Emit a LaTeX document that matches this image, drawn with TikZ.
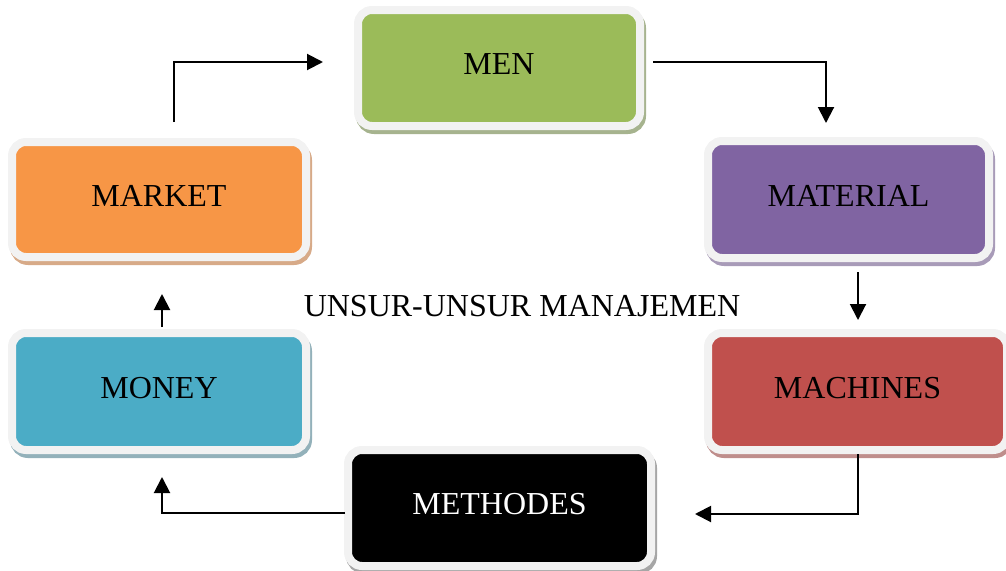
\documentclass[tikz,border=0pt]{standalone}
\usepackage{fontspec}
\setmainfont{Liberation Serif}
\usetikzlibrary{arrows.meta,shadows}
\definecolor{boxborder}{HTML}{F2F2F2}
\definecolor{cgreen}{HTML}{9BBB59}
\definecolor{cpurple}{HTML}{8064A2}
\definecolor{cred}{HTML}{C0504D}
\definecolor{cblue}{HTML}{4BACC6}
\definecolor{corange}{HTML}{F79646}
\definecolor{sgreen}{HTML}{A6B38E}
\definecolor{spurple}{HTML}{A89BB8}
\definecolor{sred}{HTML}{BF8E8C}
\definecolor{sblue}{HTML}{93B1BA}
\definecolor{sorange}{HTML}{D7AA88}
\definecolor{sblack}{HTML}{A6A6A6}
\begin{document}
\begin{tikzpicture}[x=1pt,y=-1pt,
  box/.style={rounded corners=14pt, draw=boxborder, line width=8pt, inner sep=0pt,
    text depth=8pt, font=\fontsize{32}{37}\selectfont,
    drop shadow={shadow xshift=2pt, shadow yshift=-4pt, opacity=1, fill=#1, draw=#1, line width=8pt}},
  arr/.style={line width=2pt, -{Triangle[length=16pt,width=16pt]}},
  title/.style={font=\fontsize{32}{37}\selectfont, inner sep=0pt}]
\useasboundingbox (0,0) rectangle (1006,570);
\node[box=sgreen, fill=cgreen, minimum width=282pt, minimum height=116pt] (men) at (499,68) {MEN};
\node[box=sorange, fill=corange, minimum width=294pt, minimum height=115pt] (market) at (159,199.5) {MARKET};
\node[box=spurple, fill=cpurple, minimum width=281pt, minimum height=117pt] (material) at (848.5,199.5) {MATERIAL};
\node[box=sred, fill=cred, minimum width=299pt, minimum height=117pt] (machines) at (857.5,391.5) {MACHINES};
\node[box=sblue, fill=cblue, minimum width=294pt, minimum height=117pt] (money) at (159,391.5) {MONEY};
\node[box=sblack, fill=black, text=white, minimum width=303pt, minimum height=116pt] (methodes) at (499.5,508) {METHODES};
\node[title] (ttl) at (522,306) {UNSUR-UNSUR MANAJEMEN};
\draw[arr] ([shift={(15,-16)}]market.north) |- ([shift={(-31,-6)}]men.west);
\draw[arr] ([shift={(9,-6)}]men.east) -| ([shift={(-22.5,-14)}]material.north);
\draw[arr] ([shift={(9.5,10)}]material.south) -- ([shift={(0.5,-9)}]machines.north);
\draw[arr] ([shift={(0.5,0)}]machines.south) |- ([shift={(40,6)}]methodes.east);
\draw[arr] ([shift={(1,5)}]methodes.west) -| ([shift={(3,23)}]money.south);
\draw[arr] ([shift={(3,-2)}]money.north) -- ([shift={(3,33)}]market.south);
\end{tikzpicture}
\end{document}
